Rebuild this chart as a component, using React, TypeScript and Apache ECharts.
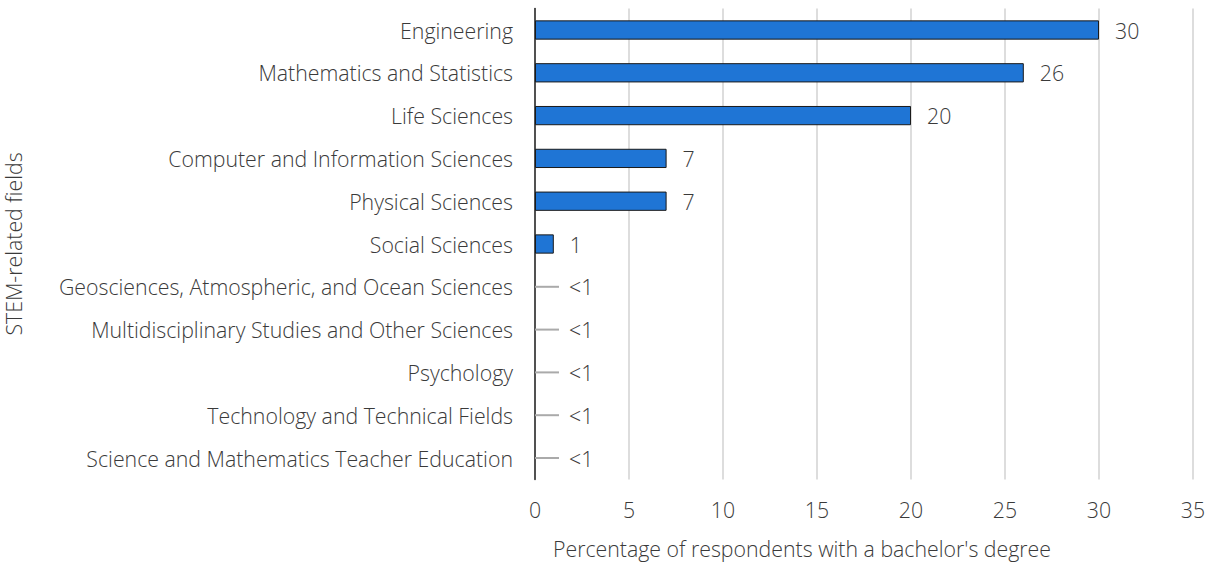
import React, { useEffect, useRef } from "react";
import * as echarts from "echarts";

const categories = [
  "Engineering",
  "Mathematics and Statistics",
  "Life Sciences",
  "Computer and Information Sciences",
  "Physical Sciences",
  "Social Sciences",
  "Geosciences, Atmospheric, and Ocean Sciences",
  "Multidisciplinary Studies and Other Sciences",
  "Psychology",
  "Technology and Technical Fields",
  "Science and Mathematics Teacher Education",
];
// null = less than 1 percent
const values: (number | null)[] = [30, 26, 20, 7, 7, 1, null, null, null, null, null];
const xTicks = [0, 5, 10, 15, 20, 25, 30, 35];
const xAxisTitle = "Percentage of respondents with a bachelor's degree";
const yAxisTitle = "STEM-related fields";
const smallLabel = "<1";

const FONT = "'Open Sans', 'Noto Sans', sans-serif";
const TEXT = "#3a3a3a";
const FS = 21.3;

export default function App() {
  const ref = useRef<HTMLDivElement>(null);
  useEffect(() => {
    document.body.style.margin = "0";
    const chart = echarts.init(ref.current!, null, { renderer: "svg" });
    const smallData = values
      .map((v, i) => (v === null ? [0, i] : null))
      .filter((d) => d !== null);
    const ts = { fontSize: FS, color: TEXT, fontFamily: FONT, fontWeight: 300 };
    chart.setOption({
      animation: false,
      textStyle: { fontFamily: FONT, fontWeight: 300 },
      grid: {
        left: 535,
        right: 19,
        top: 8.6,
        bottom: 83.6,
        outerBoundsMode: "none",
        containLabel: false,
      },
      xAxis: {
        type: "value",
        min: xTicks[0],
        max: xTicks[xTicks.length - 1],
        interval: 5,
        name: xAxisTitle,
        nameLocation: "middle",
        nameGap: 59,
        nameTextStyle: { ...ts, padding: [0, 124, 0, 0] },
        axisLine: { show: false },
        axisTick: { show: false },
        axisLabel: { ...ts, margin: 20 },
        splitLine: { show: true, lineStyle: { color: "#dddddd", width: 2 } },
      },
      yAxis: {
        type: "category",
        data: categories,
        inverse: true,
        name: yAxisTitle,
        nameLocation: "middle",
        nameGap: 511,
        nameRotate: 90,
        nameTextStyle: ts,
        axisLine: { show: true, lineStyle: { color: "#222222", width: 1.5 } },
        axisTick: { show: false },
        axisLabel: { ...ts, margin: 22 },
      },
      series: [
        {
          type: "bar",
          data: values.map((v) => (v === null ? null : v)),
          barWidth: "45%",
          itemStyle: { color: "#1f75d5", borderColor: "#1a1a1a", borderWidth: 1 },
          label: {
            show: true,
            position: "right",
            distance: 16,
            fontSize: FS,
            color: TEXT,
            fontFamily: FONT,
            fontWeight: 300,
          },
        },
        {
          type: "custom",
          data: smallData,
          renderItem: (params: any, api: any) => {
            const p = api.coord([api.value(0), api.value(1)]);
            const len = 24;
            return {
              type: "group",
              children: [
                {
                  type: "line",
                  shape: { x1: p[0], y1: p[1], x2: p[0] + len, y2: p[1] },
                  style: { stroke: "#aaaaaa", lineWidth: 2 },
                },
                {
                  type: "text",
                  x: p[0] + len + 10,
                  y: p[1],
                  style: {
                    text: smallLabel,
                    fontSize: FS,
                    fill: TEXT,
                    fontFamily: FONT,
                    fontWeight: 300,
                    verticalAlign: "middle",
                    align: "left",
                  },
                },
              ],
            };
          },
        },
      ],
    });
    return () => chart.dispose();
  }, []);
  return <div ref={ref} style={{ width: 1212, height: 563 }} />;
}
